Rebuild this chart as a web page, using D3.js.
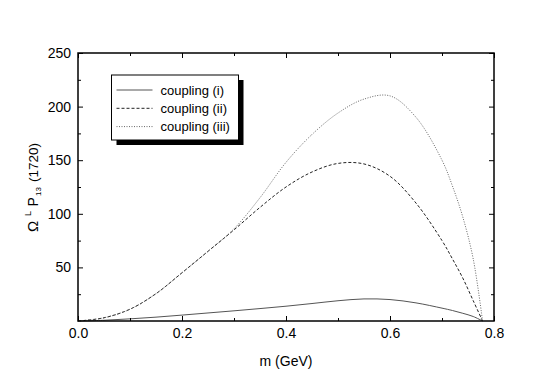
<!DOCTYPE html>
<html><head><meta charset="utf-8">
<script src="https://cdn.jsdelivr.net/npm/d3@7"></script>
<style>body{margin:0;background:#fff}svg{display:block}text{font-family:"Liberation Sans",Arial,Helvetica,sans-serif}</style>
</head><body>
<script>
const mValues     = [0, 0.05, 0.1, 0.15, 0.2, 0.25, 0.3, 0.35, 0.4, 0.45, 0.5, 0.55, 0.6, 0.65, 0.7, 0.72, 0.74, 0.76, 0.778];
const couplingI   = [0, 0.7, 2, 3.6, 5.5, 7.5, 9.5, 11.6, 13.8, 16.3, 18.9, 20.6, 20, 16.9, 12, 9.8, 7.2, 4.2, 0];
const couplingII  = [0, 3, 11, 25.5, 45, 65, 85, 106, 125, 139, 147, 146.5, 135, 110, 75, 58, 40, 19, 0];
const couplingIII = [0, 3, 11, 25.5, 45, 65, 86, 115, 148, 174, 194, 207, 210, 190, 150, 126, 97, 58, 0];
const seriesNames = ["coupling (i)", "coupling (ii)", "coupling (iii)"];
const xMajorTicks = [0.0, 0.2, 0.4, 0.6, 0.8];
const xMinorTicks = [0.1, 0.3, 0.5, 0.7];
const yMajorTicks = [50, 100, 150, 200, 250];
const yMinorTicks = [25, 75, 125, 175, 225];

const W = 545, H = 380;
const L = 78, R = 494, T = 53, B = 321;
const svg = d3.select("body").append("svg").attr("width", W).attr("height", H);
const x = d3.scaleLinear().domain([0, 0.8]).range([L, R]);
const y = d3.scaleLinear().domain([0, 250]).range([B, T]);

const styles = [
  {stroke: "#555", dash: null, width: 1},
  {stroke: "#222", dash: "3,2", width: 1},
  {stroke: "#666", dash: "1,1.5", width: 1}
];
const seriesData = [couplingI, couplingII, couplingIII];

const line = d3.line().x(d => x(d[0])).y(d => y(d[1])).curve(d3.curveCatmullRom.alpha(0.5));
seriesData.forEach((vals, i) => {
  svg.append("path")
    .datum(mValues.map((m, j) => [m, vals[j]]))
    .attr("d", line)
    .attr("fill", "none")
    .attr("stroke", styles[i].stroke)
    .attr("stroke-width", styles[i].width)
    .attr("stroke-dasharray", styles[i].dash);
});

function styleAxis(g) {
  g.select(".domain").remove();
  g.selectAll("line").attr("stroke", "#000").attr("stroke-width", 1);
  g.selectAll("text").attr("font-size", 14).attr("fill", "#000")
    .style("font-family", "'Liberation Sans', Arial, sans-serif");
}
// bottom
svg.append("g").attr("transform", `translate(0,${B})`)
  .call(d3.axisBottom(x).tickValues(xMajorTicks).tickFormat(d3.format(".1f")).tickSize(-5).tickPadding(7))
  .call(styleAxis);
svg.append("g").attr("transform", `translate(0,${B})`)
  .call(d3.axisBottom(x).tickValues(xMinorTicks).tickFormat("").tickSize(-3))
  .call(styleAxis);
// top
svg.append("g").attr("transform", `translate(0,${T})`)
  .call(d3.axisTop(x).tickValues(xMajorTicks).tickFormat("").tickSize(-5))
  .call(styleAxis);
svg.append("g").attr("transform", `translate(0,${T})`)
  .call(d3.axisTop(x).tickValues(xMinorTicks).tickFormat("").tickSize(-3))
  .call(styleAxis);
// left
svg.append("g").attr("transform", `translate(${L},0)`)
  .call(d3.axisLeft(y).tickValues(yMajorTicks).tickFormat(d3.format("d")).tickSize(-5).tickPadding(7))
  .call(styleAxis);
svg.append("g").attr("transform", `translate(${L},0)`)
  .call(d3.axisLeft(y).tickValues(yMinorTicks).tickFormat("").tickSize(-3))
  .call(styleAxis);
// right
svg.append("g").attr("transform", `translate(${R},0)`)
  .call(d3.axisRight(y).tickValues(yMajorTicks).tickFormat("").tickSize(-5))
  .call(styleAxis);
svg.append("g").attr("transform", `translate(${R},0)`)
  .call(d3.axisRight(y).tickValues(yMinorTicks).tickFormat("").tickSize(-3))
  .call(styleAxis);

// frame
svg.append("rect").attr("x", L).attr("y", T).attr("width", R - L).attr("height", B - T)
  .attr("fill", "none").attr("stroke", "#000").attr("stroke-width", 1.5);

// x title
svg.append("text").attr("x", (L + R) / 2).attr("y", 366).attr("text-anchor", "middle")
  .attr("font-size", 14).text("m (GeV)");

// y title
const yt = svg.append("text").attr("transform", "translate(38,232) rotate(-90)")
  .attr("font-size", 14);
yt.append("tspan").attr("x", 0).attr("font-size", 15).text("Ω");
yt.append("tspan").attr("x", 16).attr("font-size", 9).attr("dy", -7).text("L");
yt.append("tspan").attr("x", 25.5).attr("dy", 7).text("P");
yt.append("tspan").attr("x", 36).attr("font-size", 8).attr("dy", 3).text("13");
yt.append("tspan").attr("x", 50).attr("font-size", 13.5).attr("dy", -3).text("(1720)");

// legend
const lg = {x: 111.5, y: 75, w: 127, h: 65, off: 5};
svg.append("rect").attr("x", lg.x + lg.off).attr("y", lg.y + lg.off).attr("width", lg.w).attr("height", lg.h).attr("fill", "#000");
svg.append("rect").attr("x", lg.x).attr("y", lg.y).attr("width", lg.w).attr("height", lg.h)
  .attr("fill", "#fff").attr("stroke", "#000").attr("stroke-width", 1);
seriesNames.forEach((name, i) => {
  const yy = lg.y + 15 + i * 18.3;
  svg.append("line").attr("x1", lg.x + 5).attr("x2", lg.x + 41).attr("y1", yy).attr("y2", yy)
    .attr("stroke", styles[i].stroke).attr("stroke-width", 1).attr("stroke-dasharray", styles[i].dash);
  svg.append("text").attr("x", lg.x + 49).attr("y", yy + 4.5).attr("font-size", 13).text(name);
});
</script>
</body></html>
